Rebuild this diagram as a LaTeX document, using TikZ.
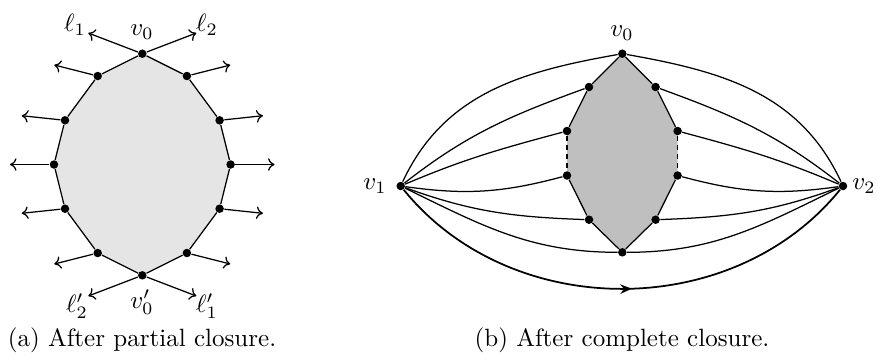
\documentclass[tikz,border=0pt]{standalone}
\usetikzlibrary{arrows.meta,decorations.markings,backgrounds}
\begin{document}
\begin{tikzpicture}[x=0.4pt,y=0.4pt,
  dot/.style={circle,fill=black,inner sep=0pt,minimum size=3.4pt},
  edge/.style={line width=0.5pt},
  ray/.style={line width=0.5pt,-{To[length=2.6pt,width=5pt]}},
  dashedge/.style={line width=0.5pt,dash pattern=on 2pt off 1.6pt},
  lbl/.style={inner sep=0pt},
  midarrow/.style={postaction={decorate},decoration={markings,
     mark=at position 0.52 with {\arrow{Stealth[length=4.6pt,width=3.8pt]}}}}
]
\useasboundingbox (0,0) rectangle (877,-356);

% ---------------- (a) ----------------
\node[dot] (A0) at (142.3,-53.7) {};
\node[dot] (A1) at (97.7,-76) {};
\node[dot] (A2) at (65,-120.3) {};
\node[dot] (A3) at (54,-164.5) {};
\node[dot] (A4) at (65,-208.7) {};
\node[dot] (A5) at (97.7,-253) {};
\node[dot] (A6) at (142.3,-275.3) {};
\node[dot] (B5) at (186.9,-253) {};
\node[dot] (B4) at (219.6,-208.7) {};
\node[dot] (B3) at (230.6,-164.5) {};
\node[dot] (B2) at (219.6,-120.3) {};
\node[dot] (B1) at (186.9,-76) {};

\begin{pgfonlayer}{background}
\fill[black!10] (A0.center) -- (A1.center) -- (A2.center) -- (A3.center) -- (A4.center)
  -- (A5.center) -- (A6.center) -- (B5.center) -- (B4.center) -- (B3.center)
  -- (B2.center) -- (B1.center) -- cycle;
\end{pgfonlayer}
\draw[edge] (A0) -- (A1) -- (A2) -- (A3) -- (A4) -- (A5) -- (A6) -- (B5) -- (B4)
  -- (B3) -- (B2) -- (B1) -- (A0);

\coordinate (tl1) at (88.3,-33);
\coordinate (tl2) at (196.3,-33);
\coordinate (tA1) at (54.3,-65);
\coordinate (tB1) at (230.3,-65);
\coordinate (tA2) at (21.7,-115.7);
\coordinate (tB2) at (262.9,-115.7);
\coordinate (tA3) at (10,-164.5);
\coordinate (tB3) at (274.6,-164.5);
\coordinate (tA4) at (21.7,-213.3);
\coordinate (tB4) at (262.9,-213.3);
\coordinate (tA5) at (54.3,-264);
\coordinate (tB5) at (230.3,-264);
\coordinate (tm2) at (88.3,-296);
\coordinate (tm1) at (196.3,-296);

\draw[ray] (A0) -- (tl1);
\draw[ray] (A0) -- (tl2);
\draw[ray] (A1) -- (tA1);
\draw[ray] (B1) -- (tB1);
\draw[ray] (A2) -- (tA2);
\draw[ray] (B2) -- (tB2);
\draw[ray] (A3) -- (tA3);
\draw[ray] (B3) -- (tB3);
\draw[ray] (A4) -- (tA4);
\draw[ray] (B4) -- (tB4);
\draw[ray] (A5) -- (tA5);
\draw[ray] (B5) -- (tB5);
\draw[ray] (A6) -- (tm2);
\draw[ray] (A6) -- (tm1);

\node[lbl] (Lv0) at (142,-32) {$v_0$};
\node[lbl] (Ll1) at (75,-25) {$\ell_1$};
\node[lbl] (Ll2) at (207,-25) {$\ell_2$};
\node[lbl] (Lv0p) at (142,-302) {$v_0'$};
\node[lbl] (Ll2p) at (77,-306) {$\ell_2'$};
\node[lbl] (Ll1p) at (207,-306) {$\ell_1'$};
\node[lbl] (capa) at (142,-340) {(a) After partial closure.};

% ---------------- (b) ----------------
\node[dot] (C0) at (622.3,-53.7) {};
\node[dot] (C1) at (589,-87) {};
\node[dot] (C2) at (567,-131) {};
\node[dot] (C3) at (567,-175.5) {};
\node[dot] (C4) at (589,-219.7) {};
\node[dot] (C5) at (622.3,-252.3) {};
\node[dot] (D4) at (655.6,-219.7) {};
\node[dot] (D3) at (677.6,-175.5) {};
\node[dot] (D2) at (677.6,-131) {};
\node[dot] (D1) at (655.6,-87) {};
\node[dot] (V1) at (400.7,-186) {};
\node[dot] (V2) at (843,-186) {};

\begin{pgfonlayer}{background}
\fill[black!25] (C0.center) -- (C1.center) -- (C2.center) -- (C3.center) -- (C4.center)
  -- (C5.center) -- (D4.center) -- (D3.center) -- (D2.center) -- (D1.center) -- cycle;
\end{pgfonlayer}
\draw[edge] (C2) -- (C1) -- (C0) -- (D1) -- (D2);
\draw[edge] (C3) -- (C4) -- (C5) -- (D4) -- (D3);
\draw[dashedge] (C2) -- (C3);
\draw[dashedge] (D2) -- (D3);

\draw[edge] (V1) to[out=65,in=190] (C0);
\draw[edge] (V1) to[out=38,in=200] (C1);
\draw[edge] (V1) to[out=23,in=195] (C2);
\draw[edge] (V1) to[out=-8,in=195] (C3);
\draw[edge] (V1) to[out=-20,in=178] (C4);
\draw[edge] (V1) to[out=-26,in=180] (C5);

\draw[edge] (V2) to[out=115,in=-10] (C0);
\draw[edge] (V2) to[out=142,in=-20] (D1);
\draw[edge] (V2) to[out=157,in=-15] (D2);
\draw[edge] (V2) to[out=188,in=-15] (D3);
\draw[edge] (V2) to[out=200,in=2] (D4);
\draw[edge] (V2) to[out=206,in=0] (C5);

\draw[edge,line width=0.7pt,midarrow] (V1) to[out=-51,in=-129] (V2);

\node[lbl] (Lbv0) at (622,-33) {$v_0$};
\node[lbl] (Lv1) at (375,-186) {$v_1$};
\node[lbl] (Lv2) at (864,-186) {$v_2$};
\node[lbl] (capb) at (622,-340) {(b) After complete closure.};
\end{tikzpicture}
\end{document}
